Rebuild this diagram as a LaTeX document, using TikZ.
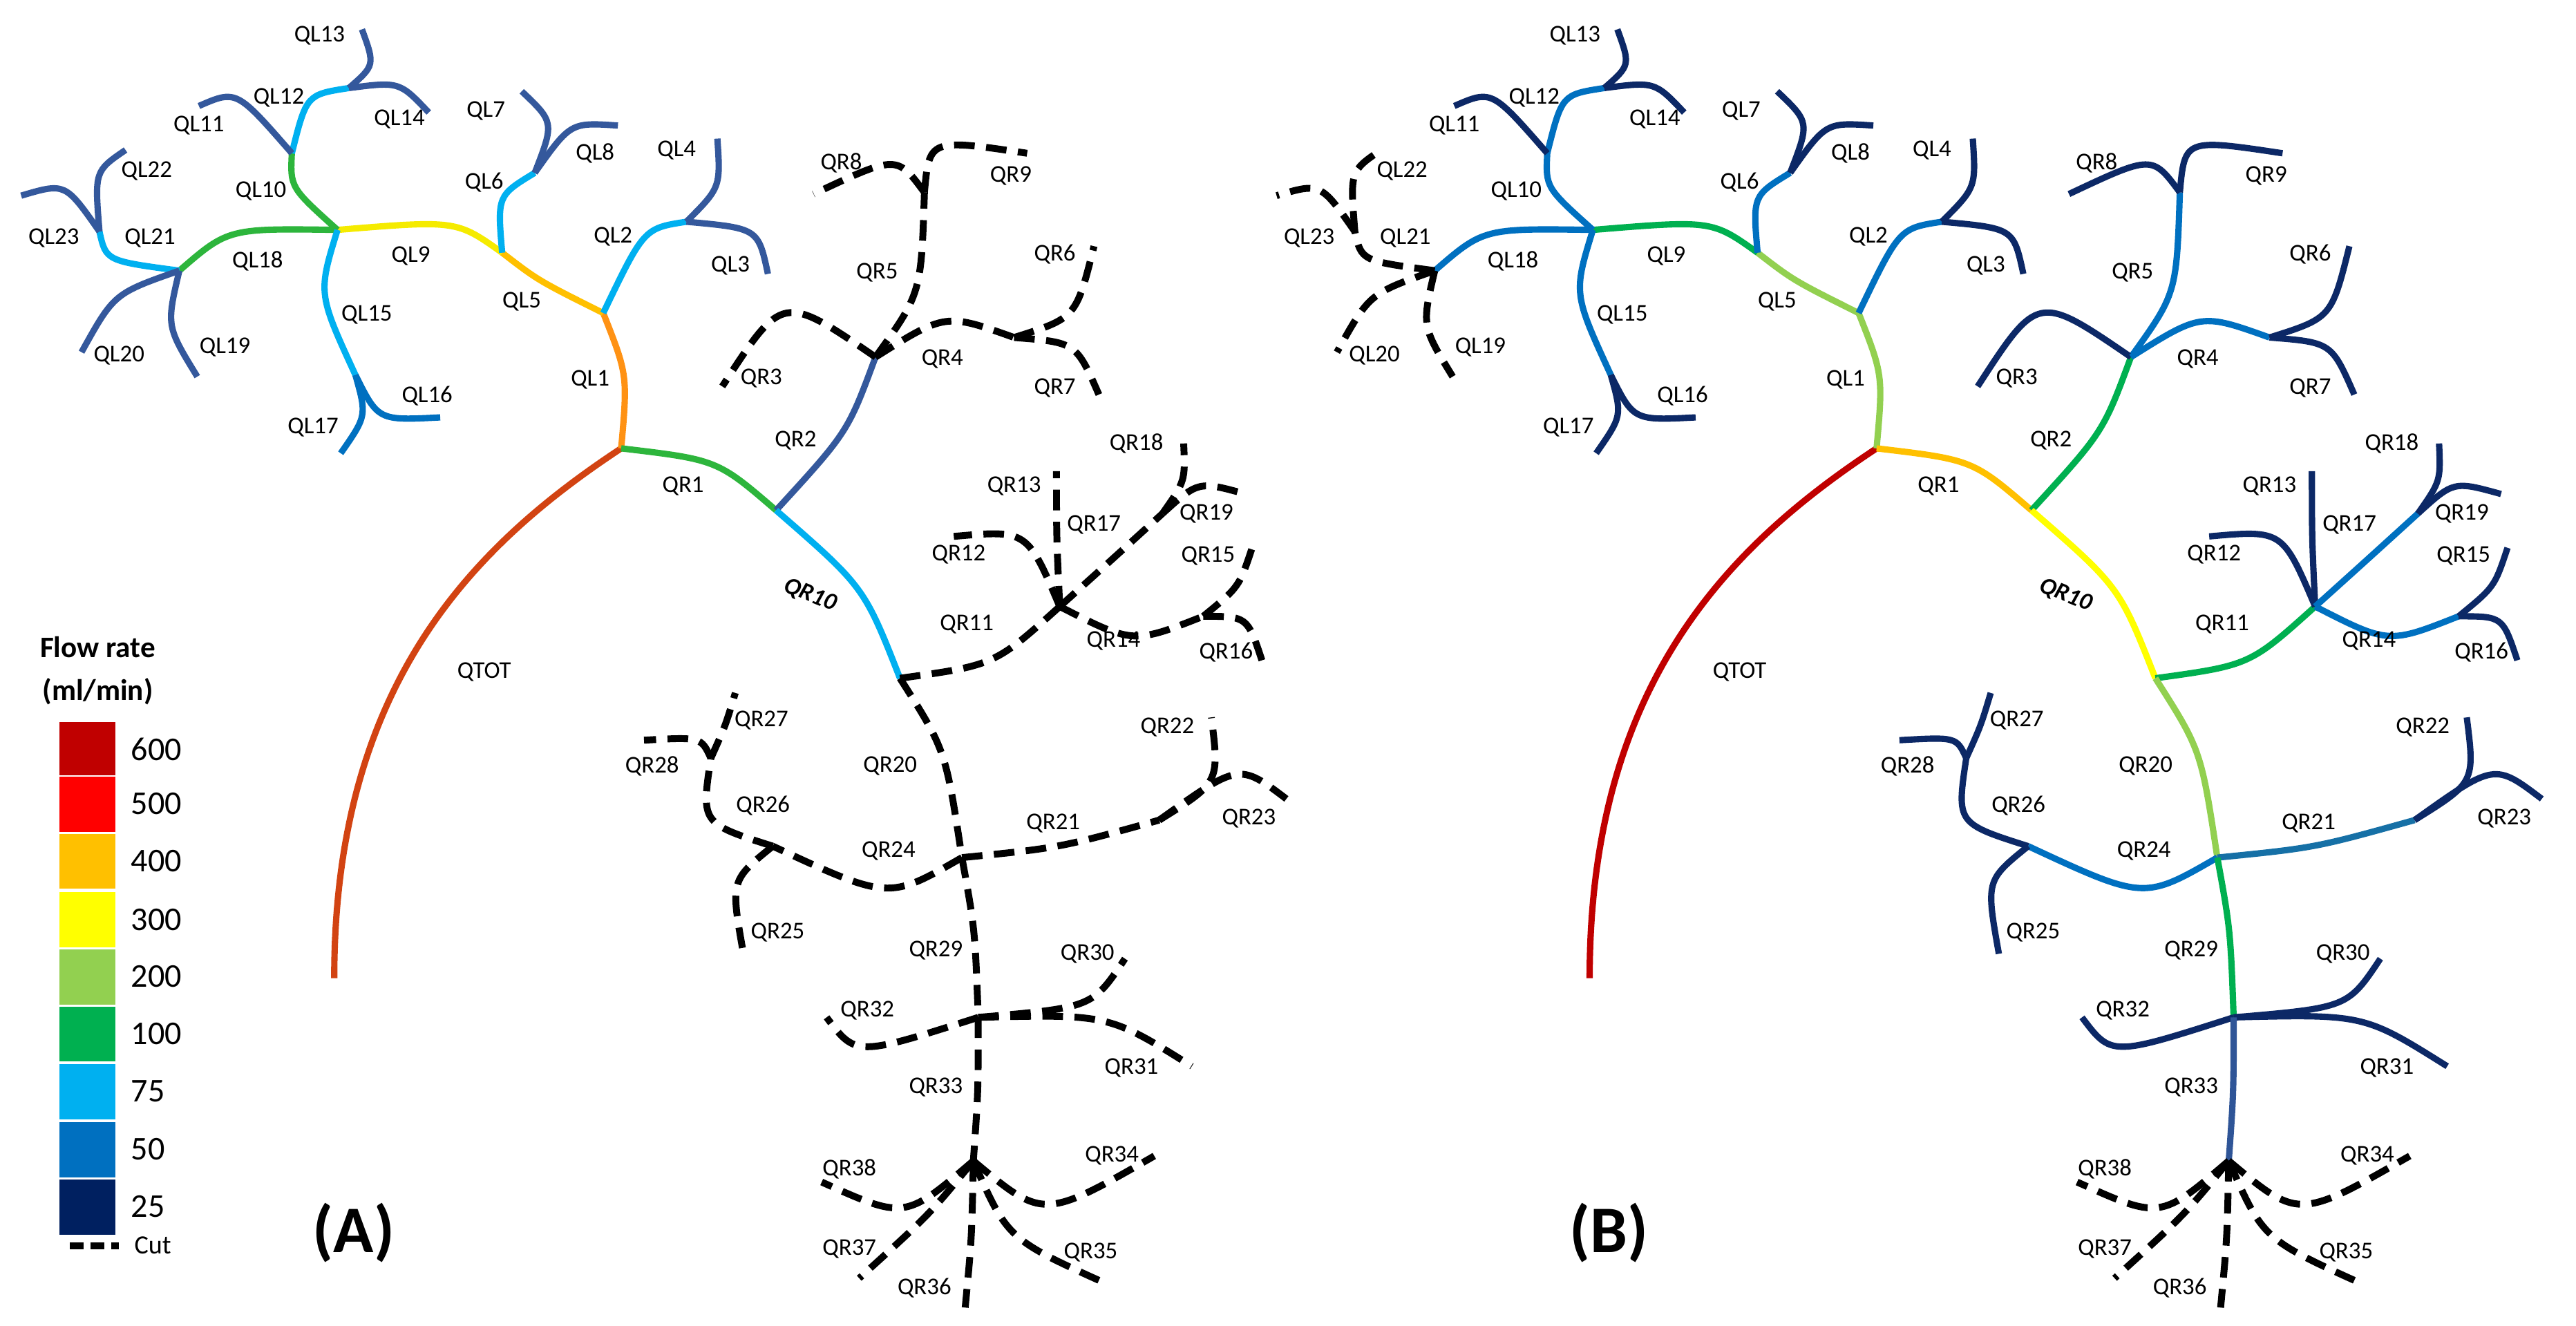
\documentclass[tikz,border=0pt]{standalone}
\usepackage{fontspec}
\setmainfont{Carlito}
\begin{document}
\begin{tikzpicture}[x=0.05cm,y=-0.05cm,
  sol/.style={line width=5.5pt},
  cut/.style={line width=6pt,black,dash pattern=on 18pt off 10pt},
  lab/.style={font=\fontsize{21}{24}\selectfont,inner sep=1pt},
  leafA/.style={#1/.style={sol,draw=lfA}},
  leafB/.style={#1/.style={sol,draw=lfB}},
  cutL/.style={#1/.style={cut}}]
\definecolor{ctA}{HTML}{D24312}
\definecolor{orA}{HTML}{FF9214}
\definecolor{yoA}{HTML}{FFC000}
\definecolor{yeA}{HTML}{F5EB00}
\definecolor{grA}{HTML}{2DB53C}
\definecolor{lbA}{HTML}{00B0F0}
\definecolor{lfA}{HTML}{34589C}
\definecolor{mbA}{HTML}{0070C0}
\definecolor{lfB}{HTML}{0C2866}
\definecolor{c600}{HTML}{C00000}
\definecolor{c500}{HTML}{FF0000}
\definecolor{c400}{HTML}{FFC000}
\definecolor{c300}{HTML}{FFFF00}
\definecolor{c200}{HTML}{92D050}
\definecolor{c100}{HTML}{00B050}
\definecolor{c75}{HTML}{00B0F0}
\definecolor{c50}{HTML}{0070C0}
\definecolor{c25}{HTML}{002060}
\definecolor{tealB}{HTML}{1670A6}
\definecolor{q33B}{HTML}{2F5597}
\useasboundingbox (0,0) rectangle (1580,813);
\newcommand\seg[4]{\draw[#1] (#2) .. controls (#4) .. (#3);}
\newcommand\drawtree{%
\coordinate (B0) at (205,600); \coordinate (J0) at (381,275);
\coordinate (J1) at (370,192); \coordinate (J2) at (308,155);
\coordinate (J3) at (207,141); \coordinate (J4) at (110,166);
\coordinate (J5) at (61,142); \coordinate (L23) at (13,120);
\coordinate (L22) at (77,92); \coordinate (L20) at (50,216);
\coordinate (L19) at (121,231); \coordinate (J6) at (179,94);
\coordinate (J7) at (214,54); \coordinate (L13) at (222,18);
\coordinate (L14) at (263,69); \coordinate (L11) at (122,65);
\coordinate (J8) at (218,230); \coordinate (L17) at (209,278);
\coordinate (L16) at (270,256); \coordinate (J9) at (328,106);
\coordinate (L7) at (320,56); \coordinate (L8) at (379,77);
\coordinate (J10) at (421,136); \coordinate (L4) at (440,85);
\coordinate (L3) at (471,168); \coordinate (J11) at (476,313);
\coordinate (J12) at (537,219); \coordinate (J13) at (567,118);
\coordinate (R8) at (499,119); \coordinate (R9) at (630,94);
\coordinate (R3) at (443,237); \coordinate (J14) at (622,207);
\coordinate (R6) at (671,151); \coordinate (R7) at (674,242);
\coordinate (J15) at (552,416); \coordinate (J16) at (650,372);
\coordinate (R12) at (585,329); \coordinate (R13) at (648,289);
\coordinate (J17) at (713,315); \coordinate (R18) at (726,272);
\coordinate (R19) at (764,303); \coordinate (J18) at (738,378);
\coordinate (R15) at (768,336); \coordinate (R16) at (774,405);
\coordinate (J19) at (590,526); \coordinate (J20) at (474,519);
\coordinate (J21) at (436,465); \coordinate (R27) at (451,425);
\coordinate (R28) at (395,454); \coordinate (R25) at (456,585);
\coordinate (J22) at (711,503); \coordinate (R22) at (743,440);
\coordinate (R23) at (789,490); \coordinate (J23) at (600,624);
\coordinate (R32) at (507,624); \coordinate (R30) at (690,588);
\coordinate (R31) at (731,654); \coordinate (J24) at (597,712);
\coordinate (R38) at (504,725); \coordinate (R34) at (708,709);
\coordinate (R37) at (527,784); \coordinate (R36) at (592,802);
\coordinate (R35) at (680,788);
\draw[QTOT] (B0) .. controls (205,420) and (290,335) .. (J0);
\seg{QL1}{J0}{J1}{385,230}
\seg{QL5}{J1}{J2}{330,172}
\seg{QL9}{J2}{J3}{280,135}
\seg{QL18}{J3}{J4}{140,140}
\seg{QL21}{J4}{J5}{65,160}
\seg{QL23}{J5}{L23}{40,112}
\seg{QL22}{J5}{L22}{58,105}
\seg{QL20}{J4}{L20}{70,180}
\seg{QL19}{J4}{L19}{102,200}
\seg{QL10}{J3}{J6}{178,115}
\seg{QL12}{J6}{J7}{188,58}
\seg{QL13}{J7}{L13}{230,40}
\seg{QL14}{J7}{L14}{245,50}
\seg{QL11}{J6}{L11}{145,55}
\seg{QL15}{J3}{J8}{195,180}
\seg{QL17}{J8}{L17}{225,255}
\seg{QL16}{J8}{L16}{232,258}
\seg{QL6}{J2}{J9}{305,120}
\seg{QL7}{J9}{L7}{340,75}
\seg{QL8}{J9}{L8}{350,75}
\seg{QL2}{J1}{J10}{395,140}
\seg{QL4}{J10}{L4}{442,115}
\seg{QL3}{J10}{L3}{465,140}
\seg{QR1}{J0}{J11}{440,282}
\seg{QR2}{J11}{J12}{520,265}
\seg{QR5}{J12}{J13}{565,180}
\seg{QR8}{J13}{R8}{550,95}
\seg{QR9}{J13}{R9}{570,85}
\seg{QR3}{J12}{R3}{480,180}
\seg{QR4}{J12}{J14}{580,192}
\seg{QR6}{J14}{R6}{660,195}
\seg{QR7}{J14}{R7}{660,210}
\seg{QR10}{J11}{J15}{530,360}
\seg{QR11}{J15}{J16}{610,408}
\seg{QR12}{J16}{R12}{630,325}
\seg{QR13}{J16}{R13}{648,330}
\seg{QR17}{J16}{J17}{680,345}
\seg{QR18}{J17}{R18}{727,295}
\seg{QR19}{J17}{R19}{735,295}
\seg{QR14}{J16}{J18}{695,395}
\seg{QR15}{J18}{R15}{760,360}
\seg{QR16}{J18}{R16}{765,378}
\seg{QR20}{J15}{J19}{580,460}
\seg{QR24}{J19}{J20}{545,552}
\seg{QR26}{J20}{J21}{430,505}
\seg{QR27}{J21}{R27}{445,445}
\seg{QR28}{J21}{R28}{430,452}
\seg{QR25}{J20}{R25}{448,540}
\seg{QR21}{J19}{J22}{650,520}
\seg{QR22}{J22}{R22}{748,480}
\seg{QR23}{J22}{R23}{760,468}
\seg{QR29}{J19}{J23}{598,570}
\seg{QR32}{J23}{R32}{525,648}
\seg{QR30}{J23}{R30}{670,618}
\seg{QR31}{J23}{R31}{680,622}
\seg{QR33}{J23}{J24}{600,670}
\seg{QR38}{J24}{R38}{555,748}
\seg{QR34}{J24}{R34}{640,748}
\seg{QR37}{J24}{R37}{570,745}
\seg{QR36}{J24}{R36}{596,760}
\seg{QR35}{J24}{R35}{618,760}
\foreach \t/\p in {QL13/{196,22},QL12/{171,60},QL14/{245,73},QL11/{122,77},QL7/{298,68},QL8/{365,94},QL4/{415,92},QL22/{90,105},QL10/{160,117},QL6/{297,112},QL23/{33,146},QL21/{92,146},QL2/{376,145},QL18/{158,160},QL9/{252,157},QL3/{448,163},QL15/{225,193},QL5/{320,185},QL20/{73,218},QL19/{138,213},QL1/{362,233},QL16/{262,243},QL17/{192,262},QR8/{516,100},QR9/{620,108},QR5/{538,167},QR6/{647,156},QR3/{467,232},QR4/{578,220},QR7/{647,238},QR2/{488,270},QR1/{419,298},QR18/{697,272},QR13/{622,298},QR17/{671,322},QR19/{740,315},QR12/{588,340},QR15/{741,341},QR11/{593,383},QR14/{683,393},QR16/{752,400},QTOT/{297,412},QR27/{467,442},QR28/{400,470},QR20/{546,470},QR22/{716,446},QR26/{468,494},QR21/{646,505},QR23/{766,502},QR24/{545,522},QR25/{477,572},QR29/{574,583},QR30/{667,585},QR32/{532,620},QR31/{694,655},QR33/{574,667},QR34/{682,709},QR38/{521,717},QR37/{521,766},QR35/{669,768},QR36/{567,790}}
  {\node[lab] (n\t) at (\p) {\t};}
\node[lab,font=\fontsize{21}{24}\selectfont\bfseries\itshape,rotate=-22] (nQR10) at (497,365) {QR10};
}
% Panel A
\begin{scope}
\tikzset{QTOT/.style={sol,draw=ctA},QL1/.style={sol,draw=orA},QL5/.style={sol,draw=yoA},
QL9/.style={sol,draw=yeA},QL18/.style={sol,draw=grA},QL10/.style={sol,draw=grA},QR1/.style={sol,draw=grA},
QL21/.style={sol,draw=lbA},QL12/.style={sol,draw=lbA},QL15/.style={sol,draw=lbA},QL6/.style={sol,draw=lbA},
QL2/.style={sol,draw=lbA},QR10/.style={sol,draw=lbA},QL16/.style={sol,draw=mbA},QL17/.style={sol,draw=mbA},
leafA/.list={QL3,QL4,QL7,QL8,QL11,QL13,QL14,QL19,QL20,QL22,QL23,QR2},
cutL/.list={QR3,QR4,QR5,QR6,QR7,QR8,QR9,QR11,QR12,QR13,QR14,QR15,QR16,QR17,QR18,QR19,QR20,QR21,QR22,QR23,QR24,QR25,QR26,QR27,QR28,QR29,QR30,QR31,QR32,QR33,QR34,QR35,QR36,QR37,QR38}}
\drawtree
\node[font=\fontsize{58}{60}\selectfont\bfseries] (pA) at (217,756) {(A)};
\end{scope}
% Panel B
\begin{scope}[shift={(770,0)}]
\tikzset{QTOT/.style={sol,draw=c600},QL1/.style={sol,draw=c200},QL5/.style={sol,draw=c200},
QL9/.style={sol,draw=c100},QR2/.style={sol,draw=c100},QR11/.style={sol,draw=c100},QR29/.style={sol,draw=c100},
QR1/.style={sol,draw=c400},QR10/.style={sol,draw=c300},QR20/.style={sol,draw=c200},
QR21/.style={sol,draw=tealB},QR33/.style={sol,draw=q33B},
QL18/.style={sol,draw=c50},QL10/.style={sol,draw=c50},QL12/.style={sol,draw=c50},QL15/.style={sol,draw=c50},
QL6/.style={sol,draw=c50},QL2/.style={sol,draw=c50},QR5/.style={sol,draw=c50},QR4/.style={sol,draw=c50},
QR17/.style={sol,draw=c50},QR14/.style={sol,draw=c50},QR24/.style={sol,draw=c50},
leafB/.list={QL3,QL4,QL7,QL8,QL11,QL13,QL14,QL16,QL17,QR3,QR6,QR7,QR8,QR9,QR12,QR13,QR15,QR16,QR18,QR19,QR22,QR23,QR25,QR26,QR27,QR28,QR30,QR31,QR32},
cutL/.list={QL19,QL20,QL21,QL22,QL23,QR34,QR35,QR36,QR37,QR38}}
\drawtree
\node[font=\fontsize{58}{60}\selectfont\bfseries] (pB) at (217,756) {(B)};
\end{scope}
% Legend
\node[font=\fontsize{26}{28}\selectfont\bfseries] (t1) at (60,397) {Flow rate};
\node[font=\fontsize{26}{28}\selectfont\bfseries] (t2) at (60,424) {(ml/min)};
\foreach \c/\v/\y in {c600/600/442.5,c500/500/476,c400/400/511,c300/300/547,c200/200/582,c100/100/617,c75/75/652.5,c50/50/688,c25/25/723}{
  \draw[white,line width=1pt,fill=\c] (36,\y) rectangle (71,\y+34.5);
  \node[anchor=west,font=\fontsize{29}{30}\selectfont] (v\v) at (78,\y+17) {\v};
}
\coordinate (cu1) at (43,764); \coordinate (cu2) at (73,764);
\draw[line width=6pt,dash pattern=on 12pt off 6pt] (cu1) -- (cu2);
\node[anchor=west,font=\fontsize{23}{26}\selectfont] (cutl) at (80,764) {Cut};
\end{tikzpicture}
\end{document}
